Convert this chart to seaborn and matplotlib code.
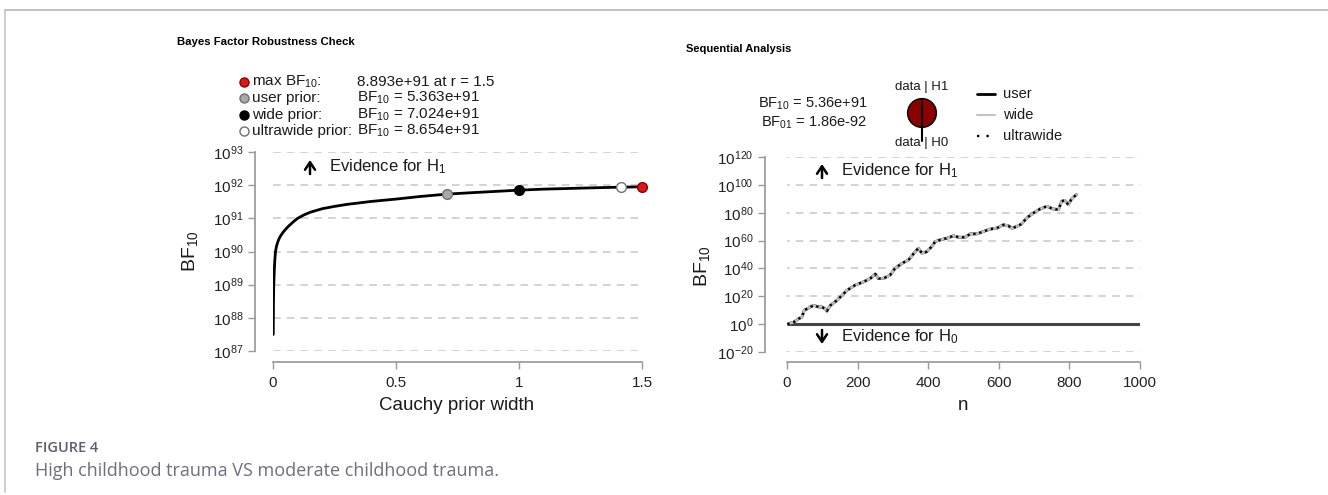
import numpy as np
import pandas as pd
import matplotlib
matplotlib.use("Agg")
import matplotlib.pyplot as plt
from matplotlib.lines import Line2D
from matplotlib.patches import FancyArrowPatch
import seaborn as sns

# Robustness check: Cauchy prior width vs log10(BF10)
prior_width = [0.001, 0.002, 0.003, 0.005, 0.0075, 0.01, 0.0125, 0.015, 0.02,
               0.025, 0.03, 0.04, 0.05, 0.06, 0.07, 0.085, 0.1, 0.125, 0.15, 0.2,
               0.25, 0.3, 0.4, 0.5, 0.6, 0.707, 0.8, 0.9, 1.0, 1.1, 1.2, 1.3,
               1.414, 1.5]
log_bf_width = [87.5, 88.5, 88.95, 89.4, 89.75, 89.98, 90.1, 90.18, 90.3,
                90.39, 90.46, 90.57, 90.66, 90.74, 90.81, 90.91, 91.0, 91.1,
                91.18, 91.29, 91.36, 91.42, 91.51, 91.58, 91.66, 91.73, 91.77,
                91.81, 91.85, 91.88, 91.9, 91.92, 91.94, 91.95]

# highlighted priors
point_labels = ["user prior:", "wide prior:", "ultrawide prior:", "max BF$_{10}$:"]
point_r = [0.707, 1.0, 1.414, 1.5]
point_bf = [5.363e91, 7.024e91, 8.654e91, 8.893e91]
point_text = ["BF$_{10}$ = 5.363e+91", "BF$_{10}$ = 7.024e+91",
              "BF$_{10}$ = 8.654e+91", "8.893e+91 at r = 1.5"]

# Sequential analysis: n vs log10(BF10)
seq_n = [1, 19, 33, 42, 49, 57, 75, 90, 99, 108, 113, 123, 141, 156, 170, 193,
         217, 236, 250, 259, 273, 292, 306, 325, 344, 363, 372, 382, 396, 410,
         420, 434, 453, 472, 486, 505, 519, 538, 556, 575, 594, 613, 627, 637,
         651, 665, 679, 698, 717, 736, 754, 769, 778, 787, 797, 806, 820]
seq_log_bf = [0, 1.4, 3.9, 5, 10, 11, 13.5, 12.3, 12.3, 11, 9.4, 13.5, 17, 20.7,
              24.3, 28, 30.4, 32.8, 36, 32.8, 32.8, 35.2, 40, 43.6, 46, 52, 54.5,
              51, 52, 55.7, 59.3, 60.5, 61.7, 63.4, 62.4, 62.4, 64.8, 64.8, 66.5,
              68.2, 68.9, 71.3, 70.6, 68.9, 70.1, 72, 76.2, 79.8, 82.7, 84.6, 82.7,
              82.2, 88.2, 88.9, 85.8, 89.9, 93]

# posterior probabilities for the pie
pie_labels = ["data | H1", "data | H0"]
pie_values = [1.0, 1.86e-92]

W, H = 1328, 495


def fx(x):
    return x / W


def fy(y):
    return 1 - y / H


sns.set_theme(style="white")
plt.rcParams["font.family"] = ["Liberation Sans", "DejaVu Sans"]
plt.rcParams["mathtext.default"] = "regular"
plt.rcParams["axes.edgecolor"] = "#9a9a9a"
plt.rcParams["xtick.color"] = "#9a9a9a"
plt.rcParams["ytick.color"] = "#9a9a9a"
plt.rcParams["xtick.labelcolor"] = "#222222"
plt.rcParams["ytick.labelcolor"] = "#222222"

fig = plt.figure(figsize=(W / 100, H / 100), dpi=100)
grid_kw = dict(color="#c8c8c8", lw=1.1, ls=(0, (5, 4)), zorder=0)
txt_col = "#1a1a1a"

# ---------------- left: robustness check ----------------
ax1 = fig.add_axes([fx(273), fy(351), (642 - 273) / W, (351 - 152) / H])
robust = pd.DataFrame({"r": prior_width, "bf": np.power(10.0, log_bf_width)})
ax1.set_yscale("log")
for e in range(87, 94):
    ax1.hlines(10.0 ** e, 0, 1.485, **grid_kw)
sns.lineplot(data=robust, x="r", y="bf", ax=ax1, color="black", lw=2, sort=False)
ax1.set_xlim(0, 1.5)
ax1.set_ylim(1e87, 1e93)

pt_face = ["#a8a8a8", "black", "white", "#d7191c"]
pt_edge = ["#707070", "black", "#707070", "#8b0000"]
for r, b, fc, ec in zip(point_r, point_bf, pt_face, pt_edge):
    ax1.plot([r], [b], marker="o", ms=7, mfc=fc, mec=ec, mew=1, ls="none",
             clip_on=False, zorder=5)

ax1.set_xticks([0, 0.5, 1, 1.5], ["0", "0.5", "1", "1.5"])
ax1.set_yticks([10.0 ** e for e in range(87, 94)],
               [f"$10^{{{e}}}$" for e in range(87, 94)])
ax1.minorticks_off()
for s in ["top", "right"]:
    ax1.spines[s].set_visible(False)
ax1.spines["left"].set_position(("outward", 13))
ax1.spines["bottom"].set_position(("outward", 8))
ax1.tick_params(axis="x", length=5, width=1, labelsize=11, pad=5, bottom=True)
ax1.tick_params(axis="y", length=5, width=1, labelsize=11, pad=3, left=True)
ax1.set_xlabel("")
ax1.set_ylabel("")

# ---------------- right: sequential analysis ----------------
ax2 = fig.add_axes([fx(787), fy(352), (1140 - 787) / W, (352 - 157) / H])
seq = pd.DataFrame({"n": seq_n, "bf": np.power(10.0, seq_log_bf)})
ax2.set_yscale("log")
for e in range(-20, 121, 20):
    ax2.hlines(10.0 ** e, -15, 1000, **grid_kw)
ax2.hlines(1.0, 0, 1000, color="#444444", lw=2.2, zorder=1)
sns.lineplot(data=seq, x="n", y="bf", ax=ax2, color="black", lw=2, zorder=2)
sns.lineplot(data=seq, x="n", y="bf", ax=ax2, color="#bcbcbc", lw=2, zorder=3)
sns.lineplot(data=seq, x="n", y="bf", ax=ax2, color="black", lw=1.7,
             ls=(0, (1, 1.6)), zorder=4)
ax2.set_xlim(0, 1000)
ax2.set_ylim(1e-20, 1e120)
ax2.set_xticks(range(0, 1001, 200))
ax2.set_yticks([10.0 ** e for e in range(-20, 121, 20)],
               [f"$10^{{{e}}}$" for e in range(-20, 121, 20)])
ax2.minorticks_off()
for s in ["top", "right"]:
    ax2.spines[s].set_visible(False)
ax2.spines["left"].set_position(("outward", 16))
ax2.spines["bottom"].set_position(("outward", 7))
ax2.tick_params(axis="x", length=5, width=1, labelsize=11, pad=5, bottom=True)
ax2.tick_params(axis="y", length=5, width=1, labelsize=11, pad=3, left=True)
ax2.set_xlabel("")
ax2.set_ylabel("")

# pie: posterior of data under H1 / H0
axp = fig.add_axes([fx(904), fy(131), 36 / W, 36 / H])
axp.pie(pie_values, colors=["#8b0000", "white"], startangle=90,
        wedgeprops=dict(edgecolor="black", linewidth=1))
axp.set_aspect("equal")
fig.add_artist(Line2D([fx(922), fx(922)], [fy(103), fy(141)], color="black",
                      lw=1.5, transform=fig.transFigure))
fig.text(fx(922), fy(87), pie_labels[0], fontsize=9.5, ha="center", va="center",
         color=txt_col)
fig.text(fx(922), fy(143), pie_labels[1], fontsize=9.5, ha="center", va="center",
         color=txt_col)

# ---------------- texts ----------------
fig.text(fx(177), fy(42), "Bayes Factor Robustness Check", fontsize=8.2,
         fontweight="bold", va="center", color="black")
fig.text(fx(686), fy(49), "Sequential Analysis", fontsize=8,
         fontweight="bold", va="center", color="black")

# left legend
leg_y = [98, 115, 131, 82]
for lab, txt, y, fc, ec in zip(point_labels, point_text, leg_y, pt_face, pt_edge):
    fig.add_artist(Line2D([fx(244)], [fy(y)], marker="o", ms=6.5, mfc=fc, mec=ec,
                          mew=1, ls="none", transform=fig.transFigure))
    fig.text(fx(252), fy(y), lab, fontsize=11, va="center", color=txt_col)
    fig.text(fx(357), fy(y), txt, fontsize=11, va="center", color=txt_col)

# right BF box
fig.text(fx(813), fy(104), "BF$_{10}$ = 5.36e+91", fontsize=10.5, ha="center",
         va="center", color=txt_col)
fig.text(fx(814), fy(123), "BF$_{01}$ = 1.86e-92", fontsize=10.5, ha="center",
         va="center", color=txt_col)

# right legend
leg_styles = [dict(color="black", lw=2), dict(color="#c4c4c4", lw=1.5),
              dict(color="black", lw=1.7, ls=(0, (1, 3)))]
for lab, y, st in zip(["user", "wide", "ultrawide"], [94, 115, 136], leg_styles):
    fig.add_artist(Line2D([fx(977), fx(995)], [fy(y), fy(y)],
                          transform=fig.transFigure, **st))
    fig.text(fx(1003), fy(y), lab, fontsize=10.5, va="center", color=txt_col)

# evidence labels
arrow_kw = dict(arrowstyle="->,head_length=0.45,head_width=0.3", lw=1.8,
                color="black", shrinkA=0, shrinkB=0, mutation_scale=12)
for ax_x, y, up, lab in [(310, 167, True, "Evidence for H$_1$"),
                         (822, 171, True, "Evidence for H$_1$"),
                         (822, 337, False, "Evidence for H$_0$")]:
    y0, y1 = (y + 7, y - 7) if up else (y - 7, y + 7)
    fig.add_artist(FancyArrowPatch((fx(ax_x), fy(y0)), (fx(ax_x), fy(y1)),
                                   transform=fig.transFigure, **arrow_kw))
    fig.text(fx(ax_x + 19), fy(y), lab, fontsize=12, va="center", color=txt_col)

# axis titles
fig.text(fx(190), fy(251), "BF$_{10}$", fontsize=14, rotation=90,
         ha="center", va="center", color=txt_col)
fig.text(fx(702), fy(266), "BF$_{10}$", fontsize=14, rotation=90,
         ha="center", va="center", color=txt_col)
fig.text(fx(457), fy(405), "Cauchy prior width", fontsize=13.5, ha="center",
         va="center", color=txt_col)
fig.text(fx(963), fy(405), "n", fontsize=13.5, ha="center", va="center",
         color=txt_col)

# caption and frame
fig.text(fx(35), fy(448), "FIGURE 4", fontsize=10.5, fontweight="semibold",
         family=["Open Sans", "DejaVu Sans"], va="center", color="#5c5e6e")
fig.text(fx(35), fy(471), "High childhood trauma VS moderate childhood trauma.",
         fontsize=13, family=["Open Sans", "DejaVu Sans"], va="center",
         color="#6e6e7e")
fig.add_artist(Line2D([fx(4.5), fx(1328)], [fy(10), fy(10)], color="#b4b4bc",
                      lw=1.2, transform=fig.transFigure))
fig.add_artist(Line2D([fx(4.5), fx(4.5)], [fy(10), fy(492)], color="#c4c4cc",
                      lw=1.2, transform=fig.transFigure))

fig.savefig("out.png", dpi=100)
